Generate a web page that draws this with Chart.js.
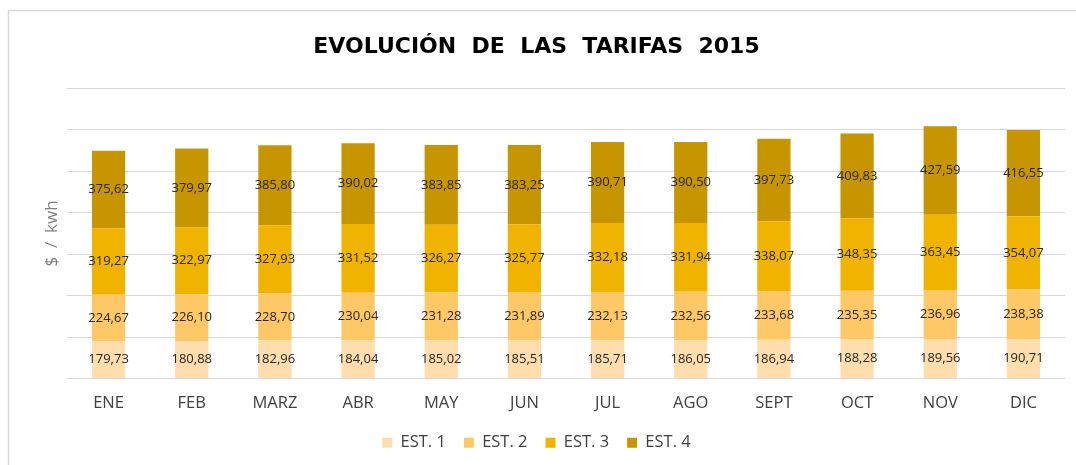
<!DOCTYPE html>
<html>
<head>
<meta charset="utf-8">
<script src="https://cdn.jsdelivr.net/npm/chart.js@4/dist/chart.umd.min.js"></script>
<style>
  html, body { margin: 0; padding: 0; background: #fff; }
  #wrap { width: 1076px; height: 465px; position: relative; }
</style>
</head>
<body>
<div id="wrap"><canvas id="tarifasChart" width="1076" height="465"></canvas></div>
<script>
var meses = ['ENE', 'FEB', 'MARZ', 'ABR', 'MAY', 'JUN', 'JUL', 'AGO', 'SEPT', 'OCT', 'NOV', 'DIC'];
var est1 = [179.73, 180.88, 182.96, 184.04, 185.02, 185.51, 185.71, 186.05, 186.94, 188.28, 189.56, 190.71];
var est2 = [224.67, 226.10, 228.70, 230.04, 231.28, 231.89, 232.13, 232.56, 233.68, 235.35, 236.96, 238.38];
var est3 = [319.27, 322.97, 327.93, 331.52, 326.27, 325.77, 332.18, 331.94, 338.07, 348.35, 363.45, 354.07];
var est4 = [375.62, 379.97, 385.80, 390.02, 383.85, 383.25, 390.71, 390.50, 397.73, 409.83, 427.59, 416.55];
var estLabels = ['EST. 1', 'EST. 2', 'EST. 3', 'EST. 4'];
var estColors = ['rgb(255, 221, 172)', 'rgb(255, 200, 102)', 'rgb(240, 179, 0)', 'rgb(199, 149, 0)'];

// marco gris alrededor del grafico
var marcoPlugin = {
	id: 'marco',
	beforeDraw: function (chart) {
		var ctx = chart.ctx;
		ctx.save();
		ctx.fillStyle = '#fff';
		ctx.fillRect(0, 0, chart.width, chart.height);
		ctx.strokeStyle = '#d9d9d9';
		ctx.lineWidth = 1.5;
		ctx.strokeRect(8.5, 10.5, 1090, 480);
		ctx.restore();
	}
};

// etiquetas de valores dentro de cada segmento
var etiquetasPlugin = {
	id: 'etiquetas',
	afterDatasetsDraw: function (chart) {
		var ctx = chart.ctx;
		ctx.save();
		ctx.font = '13px "Open Sans"';
		ctx.fillStyle = '#262626';
		ctx.textAlign = 'center';
		ctx.textBaseline = 'middle';
		chart.data.datasets.forEach(function (ds, i) {
			var meta = chart.getDatasetMeta(i);
			meta.data.forEach(function (bar, j) {
				var yMid = (bar.y + bar.base) / 2;
				ctx.fillText(ds.data[j].toFixed(2).replace('.', ','), bar.x, yMid);
			});
		});
		ctx.restore();
	}
};

var datos = [est1, est2, est3, est4];
var tarifasChart = new Chart(document.getElementById('tarifasChart'), {
	type: 'bar',
	data: {
		labels: meses,
		datasets: datos.map(function (serie, i) {
			return {
				label: estLabels[i],
				data: serie,
				backgroundColor: estColors[i],
				borderWidth: 0,
				categoryPercentage: 1,
				barPercentage: 0.4
			};
		})
	},
	options: {
		responsive: false,
		animation: false,
		layout: { padding: { left: 8, right: 11, top: 0, bottom: 4 } },
		plugins: {
			title: {
				display: true,
				text: 'EVOLUCIÓN  DE  LAS  TARIFAS  2015',
				color: '#000',
				font: { family: '"DejaVu Sans"', size: 22, weight: 'bold' },
				padding: { top: 34, bottom: 28 }
			},
			legend: {
				position: 'bottom',
				labels: {
					color: '#404040',
					font: { family: '"Open Sans"', size: 16.5 },
					boxWidth: 10,
					boxHeight: 10,
					padding: 18
				}
			},
			tooltip: { enabled: false }
		},
		scales: {
			x: {
				stacked: true,
				grid: { display: false },
				border: { display: false },
				ticks: { color: '#404040', font: { family: '"Open Sans"', size: 16.5 }, padding: 7 },
				afterFit: function (s) { s.height = 38; }
			},
			y: {
				stacked: true,
				min: 0,
				max: 1400,
				ticks: { display: false, stepSize: 200 },
				grid: { color: '#d9d9d9', drawTicks: false },
				border: { display: false },
				title: {
					display: true,
					text: '$  /  kwh',
					color: '#7f7f7f',
					font: { family: '"Open Sans"', size: 17 },
					padding: { top: 34, bottom: 0 }
				},
				afterFit: function (s) { s.width = 59; }
			}
		}
	},
	plugins: [marcoPlugin, etiquetasPlugin]
});
</script>
</body>
</html>
